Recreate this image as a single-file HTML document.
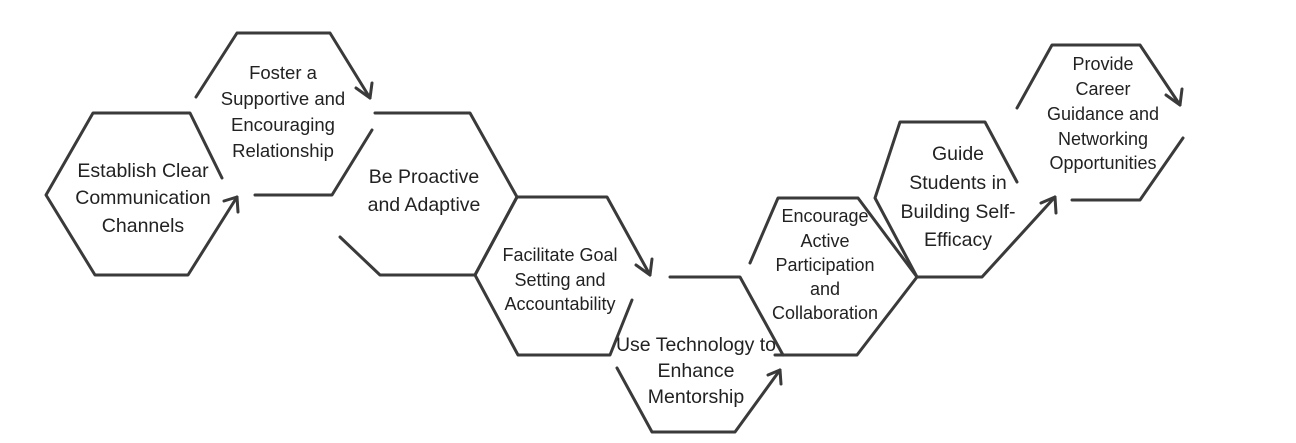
<!DOCTYPE html>
<html><head><meta charset="utf-8"><style>
html,body{margin:0;padding:0;background:#fff;}
svg{display:block;}
text{font-family:"Liberation Sans Narrow","Liberation Sans",sans-serif;fill:#222;text-anchor:middle;font-size:19.5px;}
.b{font-size:19.5px;}
.s{font-size:18px;}
.f{font-size:18.5px;}
</style></head><body>
<svg width="1296" height="443" viewBox="0 0 1296 443" xmlns="http://www.w3.org/2000/svg">
<g fill="none" stroke="#3a3a3a" stroke-width="3" stroke-linecap="round" stroke-linejoin="round">
<polyline points="222,178 190,113 93,113 46,195 95,275 188,275 237,197"/>
<polyline points="224,201 237,197 238,212"/>
<polyline points="196,97 237,33 330,33 370,98"/>
<polyline points="356,88 370,98 372,83"/>
<polyline points="372,130 332,195 255,195"/>
<polyline points="375,113 470,113 517,197 475,275 380,275 340,237"/>
<polyline points="475,275 517,197 607,197 650,275"/>
<polyline points="636,265 650,275 652,259"/>
<polyline points="632,300 610,355 518,355 475,275"/>
<polyline points="670,277 740,277 783,355"/>
<polyline points="617,368 652,432 735,432 780,370"/>
<polyline points="768,375 780,370 781,384"/>
<polyline points="750,263 778,198 858,198 917,277 857,355 775,355"/>
<polyline points="917,277 875,198 900,122 985,122 1017,182"/>
<polyline points="917,277 982,277 1055,197"/>
<polyline points="1041,203 1055,197 1056,213"/>
<polyline points="1017,108 1052,45 1140,45 1180,105"/>
<polyline points="1166,95 1180,105 1182,89"/>
<polyline points="1183,138 1140,200 1072,200"/>
</g>
<text x="143" y="177">Establish Clear</text>
<text x="143" y="204">Communication</text>
<text x="143" y="232">Channels</text>
<text class="f" x="283" y="79">Foster a</text>
<text class="f" x="283" y="105">Supportive and</text>
<text class="f" x="283" y="131">Encouraging</text>
<text class="f" x="283" y="157">Relationship</text>
<text x="424" y="183">Be Proactive</text>
<text x="424" y="211">and Adaptive</text>
<text class="s" x="560" y="261">Facilitate Goal</text>
<text class="s" x="560" y="286">Setting and</text>
<text class="s" x="560" y="310">Accountability</text>
<text x="696" y="351">Use Technology to</text>
<text x="696" y="377">Enhance</text>
<text x="696" y="403">Mentorship</text>
<text class="s" x="825" y="222">Encourage</text>
<text class="s" x="825" y="247">Active</text>
<text class="s" x="825" y="271">Participation</text>
<text class="s" x="825" y="295">and</text>
<text class="s" x="825" y="319">Collaboration</text>
<text class="b" x="958" y="160">Guide</text>
<text class="b" x="958" y="189">Students in</text>
<text class="b" x="958" y="218">Building Self-</text>
<text class="b" x="958" y="246">Efficacy</text>
<text class="s" x="1103" y="70">Provide</text>
<text class="s" x="1103" y="95">Career</text>
<text class="s" x="1103" y="120">Guidance and</text>
<text class="s" x="1103" y="145">Networking</text>
<text class="s" x="1103" y="169">Opportunities</text>
</svg>
</body></html>
